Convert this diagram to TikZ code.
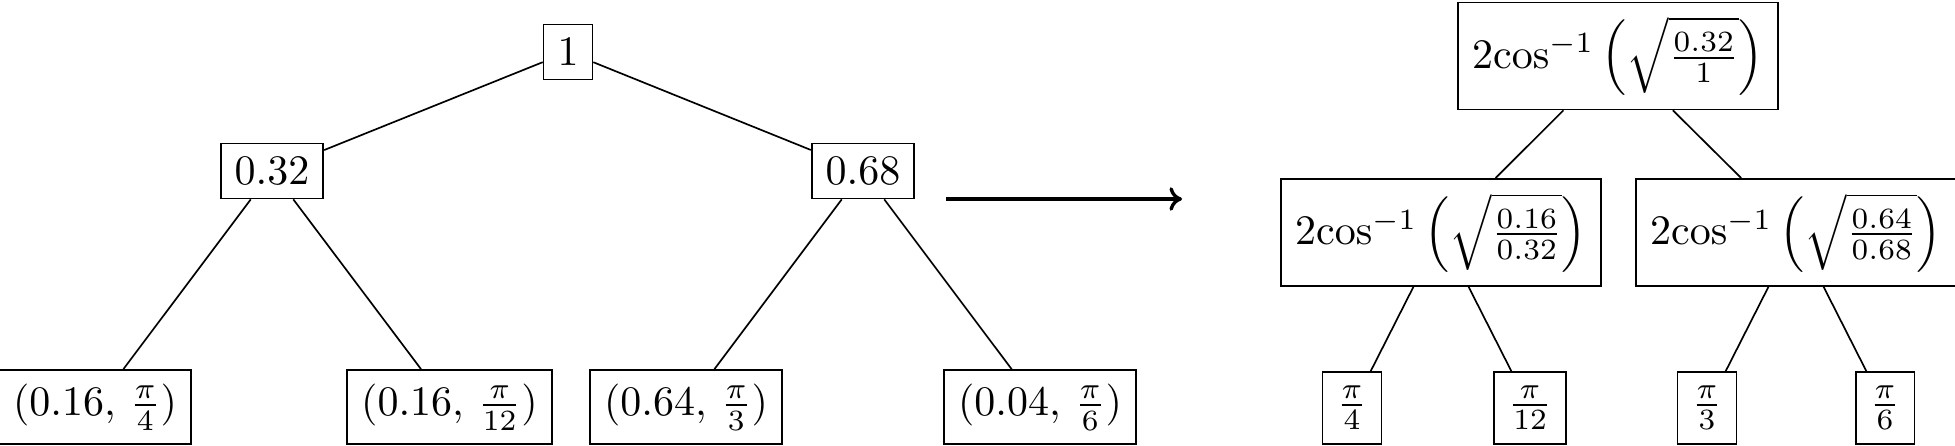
\documentclass[tikz,border=0pt]{standalone}
\usepackage{amsmath}
\usetikzlibrary{arrows.meta}
\begin{document}
\begin{tikzpicture}[x=0.2381pt,y=-0.2381pt,
  box/.style={draw,rectangle,inner sep=3.33pt},
  bigarrow/.style={line width=0.8pt,-{To[length=3pt,width=5.6pt]}}]
\useasboundingbox (0,0) rectangle (1955,445);
% left tree
\node[box] (n1) at (568,52) {$1$};
\node[box] (a) at (272,171) {$0.32$};
\node[box] (b) at (863,171) {$0.68$};
\node[box] (l1) at (95,407) {$(0.16,\,\frac{\pi}{4})$};
\node[box] (l2) at (449.5,407) {$(0.16,\,\frac{\pi}{12})$};
\node[box] (l3) at (686,407) {$(0.64,\,\frac{\pi}{3})$};
\node[box] (l4) at (1040,407) {$(0.04,\,\frac{\pi}{6})$};
\draw (n1) -- (a);
\draw (n1) -- (b);
\draw (a) -- (l1);
\draw (a) -- (l2);
\draw (b) -- (l3);
\draw (b) -- (l4);
% arrow
\coordinate (s) at (946,199);
\coordinate (e) at (1182,199);
\draw[bigarrow] (s) -- (e);
% right tree
\node[box,anchor=north] (R) at (1618,1.5) {$2{\cos}^{-1}\left(\sqrt{\frac{0.32}{1}}\right)$};
\node[box,anchor=north] (RL) at (1441,178) {$2{\cos}^{-1}\left(\sqrt{\frac{0.16}{0.32}}\right)$};
\node[box,anchor=north] (RR) at (1796,178) {$2{\cos}^{-1}\left(\sqrt{\frac{0.64}{0.68}}\right)$};
\node[box] (r1) at (1352,408) {$\frac{\pi}{4}$};
\node[box] (r2) at (1530,408) {$\frac{\pi}{12}$};
\node[box] (r3) at (1707,408) {$\frac{\pi}{3}$};
\node[box] (r4) at (1885,408) {$\frac{\pi}{6}$};
\draw (R) -- (RL);
\draw (R) -- (RR);
\draw (RL) -- (r1);
\draw (RL) -- (r2);
\draw (RR) -- (r3);
\draw (RR) -- (r4);
\end{tikzpicture}
\end{document}
